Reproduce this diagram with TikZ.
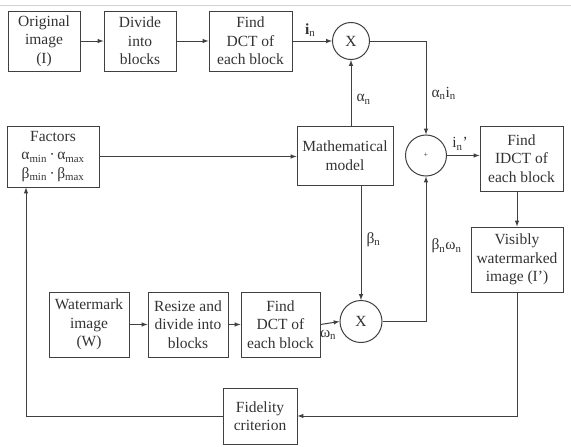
\documentclass[tikz,border=0pt]{standalone}
\usepackage{fontspec}
\setmainfont{Liberation Serif}
\begin{document}
\begin{tikzpicture}[x=1pt,y=-1pt]
    \tikzset{blk/.style={draw,line width=1pt,align=center,inner sep=1pt,text=black!80,font=\fontsize{15.5}{18.5}\selectfont},
             mul/.style={draw,circle,line width=1pt,inner sep=0pt,text=black!80,font=\fontsize{15.5}{18.5}\selectfont},
             con/.style={line width=1pt,-latex},
             lbl/.style={text=black!80,inner sep=0pt,font=\fontsize{15.5}{18.5}\selectfont}};
    \useasboundingbox (0,0) rectangle (571,447);
    \draw[blue!20,line width=1pt] (0,5) -- (571,5);
    \begin{scope}[black!75]
    \node[blk,minimum width=72pt,minimum height=60pt] (orig) at (44,41) {Original\\image\\(I)};
    \node[blk,minimum width=72pt,minimum height=60pt] (div) at (140,41) {Divide\\into\\blocks};
    \node[blk,minimum width=83pt,minimum height=60pt] (dct) at (250.5,41) {Find\\DCT of\\each block};
    \node[mul,minimum size=37pt] (mulA) at (351,41) {X};
    \node[blk,minimum width=92pt,minimum height=61pt] (fac) at (53,156.5) {Factors\\α\textsubscript{min}\,·\,α\textsubscript{max}\\β\textsubscript{min}\,·\,β\textsubscript{max}};
    \node[blk,minimum width=96pt,minimum height=59pt] (math) at (345,155.5) {Mathematical\\model};
    \node[mul,minimum size=41pt] (add) at (426,155.5) {\footnotesize +};
    \node[blk,minimum width=83pt,minimum height=65pt] (idct) at (521.5,158.5) {Find\\IDCT of\\each block};
    \node[blk,minimum width=92pt,minimum height=65pt] (vis) at (517,259.5) {Visibly\\watermarked\\image (I')};
    \node[blk,minimum width=80pt,minimum height=65pt] (wm) at (89,324.5) {Watermark\\image\\(W)};
    \node[blk,minimum width=80pt,minimum height=65pt] (rs) at (188,324.5) {Resize and\\divide into\\blocks};
    \node[blk,minimum width=79pt,minimum height=65pt] (dctw) at (280.5,324.5) {Find\\DCT of\\each block};
    \node[mul,minimum size=42pt] (mulB) at (361,321.5) {X};
    \node[blk,minimum width=74pt,minimum height=56pt] (fid) at (260,416) {Fidelity\\criterion};

    \draw[con] (orig) -- (div);
    \draw[con] (div) -- (dct);
    \draw[con] (dct) -- node[lbl,above=4pt,pos=0.45] {\textbf{i}\textsubscript{n}} (mulA);
    \draw[con] (mulA.east) -| node[lbl,pos=0.78,right=5pt] {α\textsubscript{n}i\textsubscript{n}} (add.north);
    \draw[con] (mulA.south |- math.north) -- node[lbl,right=5pt,pos=0.4] {α\textsubscript{n}} (mulA.south);
    \draw[con] (fac.east) -- (fac.east -| math.west);
    \draw[con] (add.east) -- node[lbl,above=5pt,pos=0.4] {i\textsubscript{n}'} (add.east -| idct.west);
    \draw[con] (mulB.north |- math.south) -- node[lbl,right=5pt,pos=0.47] {β\textsubscript{n}} (mulB.north);
    \draw[con] (wm) -- (rs);
    \draw[con] (rs) -- (dctw);
    \draw[con] (dctw.east) -- node[lbl,below=6pt,pos=0.4] {ω\textsubscript{n}} (mulB.west);
    \draw[con] (mulB.east) -| node[lbl,pos=0.76,right=5pt] {β\textsubscript{n}ω\textsubscript{n}} (add.south);
    \draw[con] (vis.north |- idct.south) -- (vis.north);
    \draw[con] (vis.south) |- (fid.east);
    \draw[con] (fid.west) -| ([xshift=-27pt]fac.south);
    \end{scope}
\end{tikzpicture}
\end{document}
